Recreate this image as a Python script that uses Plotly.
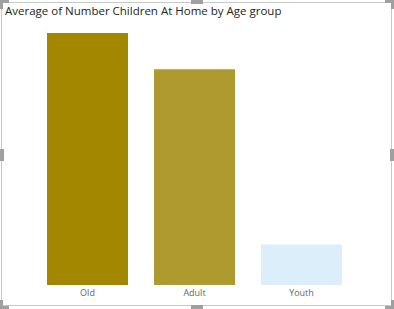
import plotly.graph_objects as go

# Data
age_groups = ["Old", "Adult", "Youth"]
avg_children = [1.56, 1.335, 0.25]
bar_colors = ["#A38700", "#AE9A2F", "#DDEEFB"]

W, H = 394, 309
ML, MR, MT, MB = 34, 39, 33, 24
PW, PH = W - ML - MR, H - MT - MB


def px(x):
    return (x - ML) / PW


def py(y):
    return (H - MB - y) / PH


fig = go.Figure(
    go.Bar(
        x=age_groups,
        y=avg_children,
        marker=dict(color=bar_colors, line=dict(width=0)),
        hoverinfo="x+y",
    )
)

shapes = []
# outer frame
shapes.append(dict(type="rect", xref="paper", yref="paper",
                   x0=px(1.5), x1=px(391.5), y0=py(2.5), y1=py(305.5),
                   line=dict(color="#C8C8C8", width=1), fillcolor="rgba(0,0,0,0)", layer="above"))
handle = "#A0A0A0"


def bar(x0, y0, x1, y1):
    shapes.append(dict(type="rect", xref="paper", yref="paper",
                       x0=px(x0), x1=px(x1), y0=py(y0), y1=py(y1),
                       line=dict(width=0), fillcolor=handle, layer="above"))


# corner L handles
bar(0, 0, 9, 3); bar(0, 0, 3, 9)
bar(385, 0, 394, 3); bar(391, 0, 394, 9)
bar(0, 306, 9, 309); bar(0, 300, 3, 309)
bar(385, 306, 394, 309); bar(391, 300, 394, 309)
# mid handles
bar(191, 0, 203, 4)
bar(191, 305, 203, 309)
bar(0, 149, 4, 161)
bar(390, 149, 394, 161)

fig.update_layout(
    width=W, height=H,
    margin=dict(l=ML, r=MR, t=MT, b=MB, autoexpand=False),
    paper_bgcolor="white", plot_bgcolor="white",
    bargap=0.243,
    showlegend=False,
    title=dict(text="Average of Number Children At Home by Age group",
               x=5 / W, xref="container", xanchor="left",
               y=1 - 10.5 / H, yref="container", yanchor="middle",
               font=dict(family="Open Sans", size=11.5, color="#252423")),
    xaxis=dict(showgrid=False, zeroline=False, showline=False, ticks="",
               tickfont=dict(family="Open Sans", size=9, color="#666666"),
               ticklabelstandoff=1,
               range=[-0.5, 2.5], fixedrange=True),
    yaxis=dict(visible=False, range=[0, max(avg_children)], fixedrange=True),
    shapes=shapes,
)

fig.write_html("out.html")
